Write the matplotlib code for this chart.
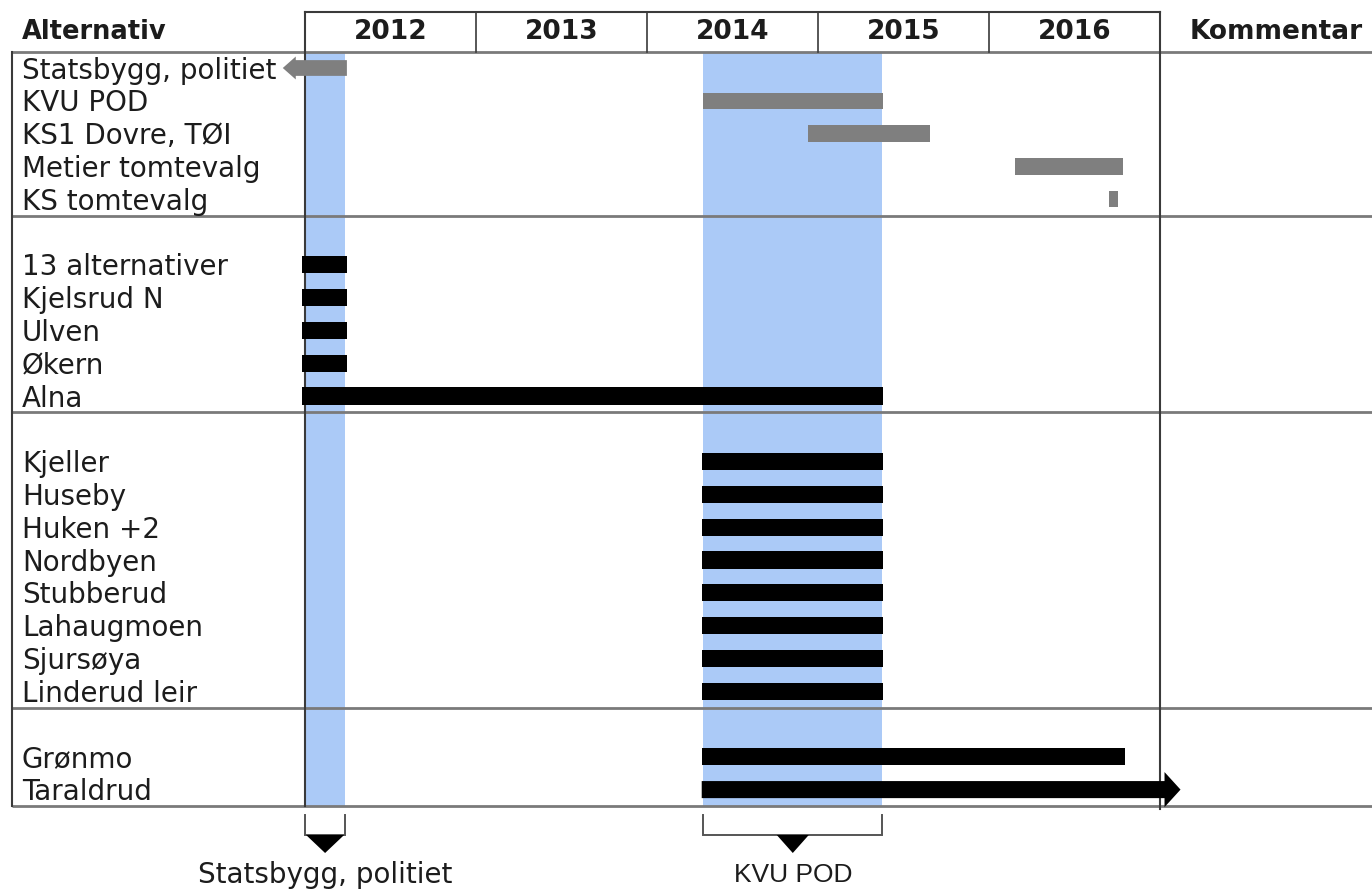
import matplotlib.pyplot as plt

# rows of the schedule, in order; a blank row is left before each new group
items = ["Statsbygg, politiet", "KVU POD", "KS1 Dovre, TØI", "Metier tomtevalg",
         "KS tomtevalg",
         "13 alternativer", "Kjelsrud N", "Ulven", "Økern", "Alna",
         "Kjeller", "Huseby", "Huken +2", "Nordbyen", "Stubberud", "Lahaugmoen",
         "Sjursøya", "Linderud leir",
         "Grønmo", "Taraldrud"]
group = [0] * 5 + [1] * 5 + [2] * 8 + [3] * 2
start = [2011.87, 2014.33, 2014.94, 2016.15, 2016.70,
         2011.98, 2011.98, 2011.98, 2011.98, 2011.98,
         2014.32, 2014.32, 2014.32, 2014.32, 2014.32, 2014.32, 2014.32, 2014.32,
         2014.32, 2014.32]
end = [2012.245, 2015.38, 2015.655, 2016.785, 2016.755,
       2012.245, 2012.245, 2012.245, 2012.245, 2015.38,
       2015.38, 2015.38, 2015.38, 2015.38, 2015.38, 2015.38, 2015.38, 2015.38,
       2016.795, 2017.12]
kind = ["gray_left", "gray", "gray", "gray", "gray"] + ["black"] * 13 + ["black", "black_right"]

years = [2012, 2013, 2014, 2015, 2016]

# highlighted periods and their labels below the table
band_start = [2012.0, 2014.33]
band_end = [2012.235, 2015.375]
band_label = ["Statsbygg, politiet", "KVU POD"]

BLUE = "#abcaf7"
GRAY = "#7f7f7f"
LINE = "#7a7a7a"
DARK = "#3a3a3a"
TXT = "#1c1c1c"

PX = 171.0  # pixels per year


def px2yr(p):
    return 2012 + (p - 305) / PX


def px2row(p):
    return (p - 68) / 32.8


fig = plt.figure(figsize=(13.72, 8.92), dpi=100)
ax = fig.add_axes([0, 0, 1, 1])
ax.set_xlim(px2yr(0), px2yr(1372))
ax.set_ylim(px2row(892), px2row(0))
ax.axis("off")

rows = [i + g for i, g in enumerate(group)]
last = rows[-1] + 0.5
left = px2yr(12)
right = px2yr(1372)
top = px2row(12)

# blue periods
for s, e in zip(band_start, band_end):
    ax.fill_between([s, e], -0.5, last, color=BLUE, lw=0, zorder=0)

# table lines
seps = sorted(set(r + 0.5 for r, g, nxt in zip(rows, group, group[1:] + [None]) if g != nxt))
for y in [-0.5] + seps:
    ax.plot([left, right], [y, y], color=LINE, lw=2.0, zorder=2, solid_capstyle="butt")
ax.plot([years[0], years[-1] + 1], [top, top], color=DARK, lw=1.5, zorder=2)
ax.plot([left, left], [-0.5, last], color=DARK, lw=1.5, zorder=2)
ax.plot([years[0], years[0]], [top, last], color=DARK, lw=1.5, zorder=2)
ax.plot([years[-1] + 1, years[-1] + 1], [top, last + 0.1], color=DARK, lw=1.5, zorder=2)
for yr in years[1:]:
    ax.plot([yr, yr], [top, -0.5], color=DARK, lw=1.2, zorder=2)

# header
hy = px2row(32)
ax.text(px2yr(22), hy, "Alternativ", ha="left", va="center", fontsize=18.5,
        fontweight="bold", color=TXT)
for yr in years:
    ax.text(yr + 0.5, hy, str(yr), ha="center", va="center", fontsize=19,
            fontweight="bold", color=TXT)
ax.text(px2yr(1190), hy, "Kommentar", ha="left", va="center", fontsize=19,
        fontweight="bold", color=TXT)

# row labels and bars
for name, y, s, e, k in zip(items, rows, start, end, kind):
    ax.text(px2yr(22), y + 0.08, name, ha="left", va="center", fontsize=20,
            color=TXT, zorder=4)
    if k == "gray":
        ax.barh(y, e - s, left=s, height=0.5, color=GRAY, zorder=3)
    elif k == "black":
        ax.barh(y, e - s, left=s, height=0.52, color="black", zorder=3)
    elif k == "gray_left":
        ax.arrow(e, y, s - e, 0, width=0.48, head_width=0.7, head_length=13 / PX,
                 length_includes_head=True, color=GRAY, lw=0, zorder=5)
    elif k == "black_right":
        ax.arrow(s, y, e - s, 0, width=0.52, head_width=1.07, head_length=16 / PX,
                 length_includes_head=True, color="black", lw=0, zorder=3)

# brackets below the table
b_top = px2row(815)
b_bot = px2row(835)
tri_tip = px2row(853)
tri_half = [19 / PX, 16 / PX]
fonts = [dict(fontsize=20), dict(fontsize=19, family="Liberation Sans")]
for s, e, lab, th, fk in zip(band_start, band_end, band_label, tri_half, fonts):
    ax.plot([s, s, e, e], [b_top, b_bot, b_bot, b_top], color="#555555", lw=1.4,
            zorder=3, solid_joinstyle="miter")
    c = (s + e) / 2
    ax.fill([c - th, c + th, c], [b_bot, b_bot, tri_tip], color="black", lw=0, zorder=3)
    ax.text(c, px2row(875), lab, ha="center", va="center", color=TXT, **fk)

fig.savefig("out.png", dpi=100)
